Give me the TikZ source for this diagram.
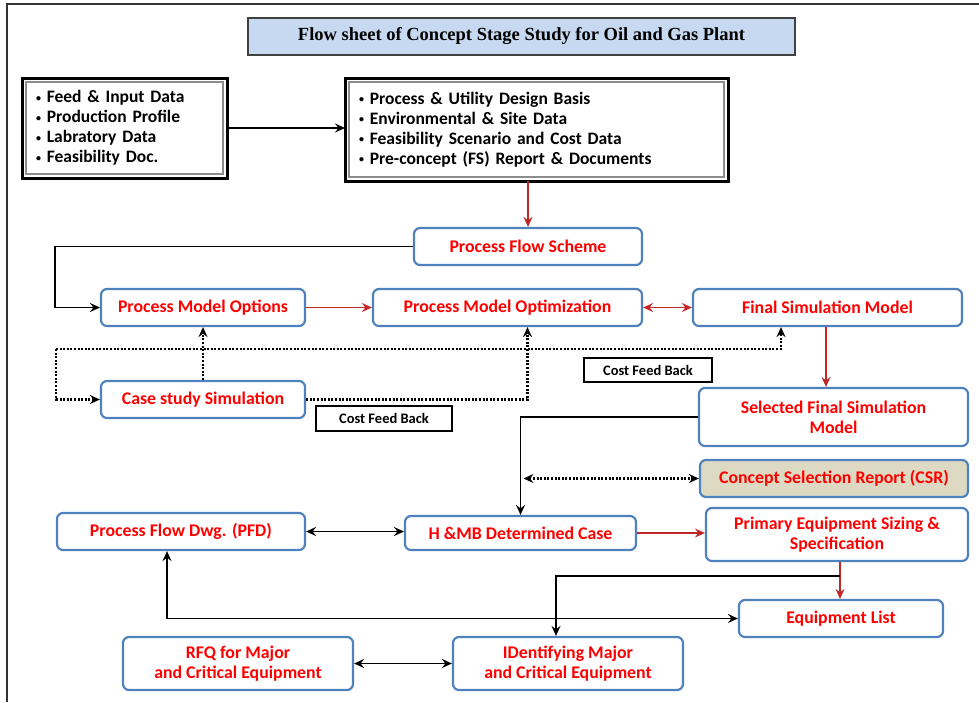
\documentclass[tikz,border=0pt]{standalone}
\usepackage{fontspec}
\setmainfont{Carlito}
\newfontfamily\titlefont{Liberation Serif}
\usetikzlibrary{arrows.meta}
\definecolor{boxblue}{RGB}{79,129,189}
\definecolor{labelred}{RGB}{255,0,0}
\definecolor{linkred}{RGB}{192,40,40}
\definecolor{csrtan}{RGB}{221,217,195}
\definecolor{titleblue}{RGB}{198,217,241}
\newcommand{\bul}{{\fontsize{10}{10}\selectfont\raisebox{1.5pt}{\textbullet}}\ }

\begin{document}
\begin{tikzpicture}[x=1pt, y=-1pt,
    >={Stealth[length=10pt,width=9pt,inset=3.5pt]},
    stagebox/.style={draw=boxblue, line width=2.2pt, rounded corners=6pt, fill=white,
      text=labelred, font=\fontsize{17.8}{20}\selectfont\bfseries, align=center, inner sep=0pt},
    databox/.style={draw=black, line width=3pt, fill=white, outer sep=0pt, inner sep=0pt,
      align=left, font=\fontsize{17.5}{20}\selectfont\bfseries},
    titlebox/.style={draw=black!75, line width=1.5pt, fill=titleblue,
      font={\titlefont\bfseries\fontsize{18.5}{20}\selectfont}},
    notebox/.style={draw=black, line width=1.3pt, fill=white,
      font=\fontsize{14.5}{16}\selectfont\bfseries},
    link/.style={line width=1.8pt, black},
    redlink/.style={line width=1.3pt, linkred},
    feedback/.style={line width=2.2pt, black, dash pattern=on 2pt off 1.6pt}]
  \useasboundingbox (0,0) rectangle (979,702);

  % Frame
  \draw[line width=2pt, black!80] (7,702) -- (7,4) -- (979,4);

  % Title
  \node[titlebox, minimum width=547pt, minimum height=37pt] (title) at (521.5,36.5)
    {Flow sheet of Concept Stage Study for Oil and Gas Plant};

  % Input data and design basis
  \node[databox, minimum width=205pt, minimum height=100pt, text width=177pt] (feed) at (124.5,128)
    {\bul Feed \& Input Data\\ \bul Production Profile\\
     \bul Labratory Data\\ \bul Feasibility Doc.};
  \node[databox, minimum width=383pt, minimum height=103pt, text width=355pt] (basis) at (536.5,129.5)
    {\bul Process \& Utility Design Basis\\ \bul Environmental \& Site Data\\
     \bul Feasibility Scenario and Cost Data\\ \bul Pre-concept (FS) Report \& Documents};
  \foreach \n in {feed,basis}{
    \draw[black!45, line width=1.3pt] ([xshift=4pt,yshift=-4pt]\n.north west)
      rectangle ([xshift=-4pt,yshift=4pt]\n.south east);
  }

  % Simulation stage
  \node[stagebox, minimum width=228pt, minimum height=37pt] (pfs) at (528,246.5) {Process Flow Scheme};
  \node[stagebox, minimum width=204pt, minimum height=37pt] (pmo) at (203,307.5) {Process Model Options};
  \node[stagebox, minimum width=269pt, minimum height=37pt] (pmopt) at (507.5,307.5) {Process Model Optimization};
  \node[stagebox, minimum width=269pt, minimum height=37pt] (fsm) at (827.5,307.5) {Final Simulation Model};
  \node[stagebox, minimum width=204pt, minimum height=37pt] (css) at (203,399.5) {Case study Simulation};
  \node[notebox, minimum width=136pt, minimum height=25pt] (cfb1) at (384,418.5) {Cost Feed Back};
  \node[notebox, minimum width=128pt, minimum height=24pt] (cfb2) at (648,370) {Cost Feed Back};
  \node[stagebox, minimum width=269pt, minimum height=58pt] (sfsm) at (833.5,417) {Selected Final Simulation\\ Model};
  \node[stagebox, fill=csrtan, minimum width=268pt, minimum height=37pt] (csr) at (834,478.5) {Concept Selection Report (CSR)};

  % Equipment stage
  \node[stagebox, minimum width=248pt, minimum height=37pt] (pfd) at (181,531.5) {Process Flow Dwg. (PFD)};
  \node[stagebox, minimum width=231pt, minimum height=34pt] (hmb) at (520.5,533) {H \&MB Determined Case};
  \node[stagebox, minimum width=262pt, minimum height=53pt] (pes) at (837,534.5) {Primary Equipment Sizing \&\\ Specification};
  \node[stagebox, minimum width=204pt, minimum height=37pt] (eql) at (841,618.5) {Equipment List};
  \node[stagebox, minimum width=230pt, minimum height=53pt] (rfq) at (238,663.5) {RFQ for Major\\ and Critical Equipment};
  \node[stagebox, minimum width=230pt, minimum height=53pt] (idm) at (568,663.5) {IDentifying Major\\ and Critical Equipment};

  % Main links
  \draw[link, ->] (feed.east) -- (feed.east -| basis.west);
  \draw[redlink, ->] (basis.south -| pfs.north) -- (pfs.north);
  \draw[link, ->] (pfs.west) -| ([xshift=-45pt]pmo.west) -- (pmo.west);
  \draw[redlink, ->] (pmo.east) -- (pmopt.west);
  \draw[redlink, <->] (pmopt.east) -- (fsm.west);
  \draw[redlink, ->] ([xshift=-1.5pt]fsm.south) -- ([xshift=-1.5pt]fsm.south |- sfsm.north);
  \draw[link, ->] (sfsm.west) -| (hmb.north);
  \draw[link, <->] (pfd.east) -- (pfd.east -| hmb.west);
  \draw[redlink, ->] (hmb.east) -- (hmb.east -| pes.west);
  \draw[redlink, ->] ([xshift=3pt]pes.south) -- ([xshift=3pt]pes.south |- eql.north);
  \draw[link, ->] ([xshift=3pt,yshift=-14pt]pes.south) -| ([xshift=-12pt]idm.north);
  \draw[link, <->] ([xshift=-14pt]pfd.south) |- (eql.west);
  \draw[link, <->] (rfq.east) -- (idm.west);

  % Cost feed back loops
  \coordinate (loop) at (56,349);
  \draw[feedback, ->] (css.north) -- (pmo.south);
  \draw[feedback, ->] (loop) -| ([xshift=-46.5pt]fsm.south);
  \draw[feedback, ->] (loop) |- (css.west);
  \draw[feedback, ->] (css.east) -| ([xshift=20pt]pmopt.south);
  \draw[feedback, <->] ([xshift=3pt]hmb.north |- csr.west) -- (csr.west);
\end{tikzpicture}
\end{document}
